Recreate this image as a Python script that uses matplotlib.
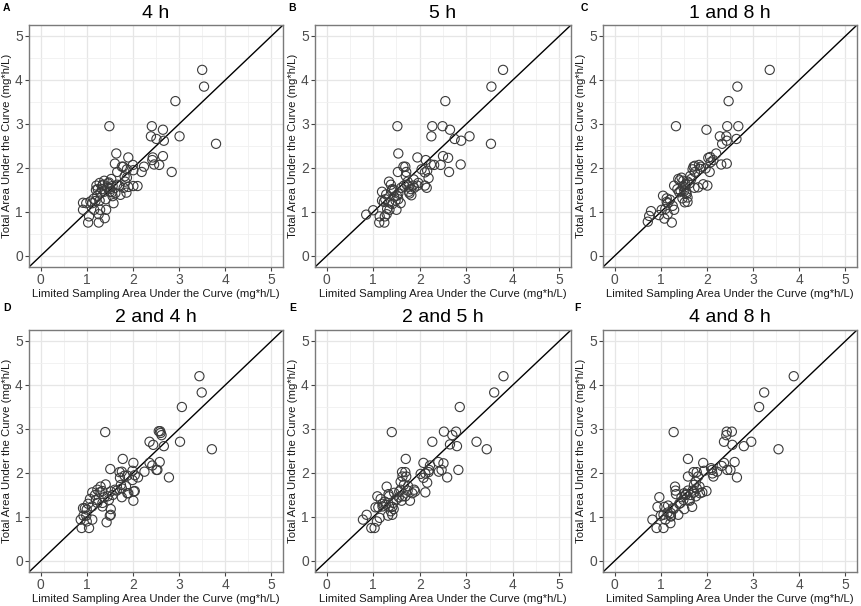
import matplotlib
matplotlib.use("Agg")
import matplotlib.pyplot as plt

# figure size in pixels
W, H = 861, 606

titles = ['4 h', '5 h', '1 and 8 h', '2 and 4 h', '2 and 5 h', '4 and 8 h']
letters = ['A', 'B', 'C', 'D', 'E', 'F']

# Panel A: 4 h
x_4h = [3.50, 3.54, 2.92, 1.49, 2.41, 2.65, 2.39, 3.01, 2.51, 2.67, 3.80, 1.64, 1.90, 2.43,
        2.65, 2.42, 2.46, 2.57, 1.61, 1.76, 1.79, 2.00, 2.24, 2.19, 2.84, 1.66, 1.87, 2.01,
        1.73, 1.90, 2.01, 2.10, 1.86, 1.83, 1.87, 1.66, 1.56, 1.51, 1.53, 1.46, 1.38, 1.28,
        1.21, 1.24, 1.30, 1.38, 1.50, 1.56, 1.58, 1.41, 1.28, 1.19, 1.08, 0.99, 0.92, 0.92,
        1.05, 1.03, 1.26, 1.39, 1.42, 1.29, 1.16, 1.26, 1.12, 1.23, 1.33, 1.45, 1.35, 1.15,
        1.70, 1.80, 1.55, 1.82, 1.48, 1.20, 1.62, 1.34]
y_4h = [4.23, 3.85, 3.52, 2.95, 2.95, 2.87, 2.72, 2.72, 2.66, 2.62, 2.55, 2.33, 2.24, 2.24,
        2.27, 2.18, 2.08, 2.07, 2.10, 2.03, 2.03, 2.07, 2.03, 1.91, 1.91, 1.91, 1.97, 1.95,
        1.39, 1.57, 1.59, 1.59, 1.44, 1.69, 1.78, 1.62, 1.59, 1.52, 1.75, 1.65, 1.71, 1.66,
        1.60, 1.52, 1.44, 1.46, 1.46, 1.36, 1.20, 1.29, 1.26, 1.25, 1.24, 1.20, 1.21, 1.05,
        0.90, 0.76, 0.76, 0.86, 1.05, 1.05, 1.05, 0.95, 1.20, 1.37, 1.52, 1.55, 1.62, 1.30,
        1.60, 1.55, 1.45, 1.81, 1.67, 1.50, 1.43, 1.60]

# Panel B: 5 h
x_5h = [3.79, 3.54, 2.55, 1.52, 2.27, 2.49, 2.65, 2.25, 3.07, 2.75, 2.89, 3.53, 1.54, 1.95,
        2.50, 2.61, 2.13, 2.24, 2.31, 2.45, 2.88, 2.63, 1.53, 1.65, 1.69, 2.04, 2.16, 2.11,
        2.19, 1.71, 1.70, 1.87, 1.97, 1.95, 2.11, 2.15, 1.76, 1.81, 1.85, 1.77, 1.82, 1.78,
        1.74, 1.66, 1.34, 1.38, 1.41, 1.40, 1.54, 1.54, 1.59, 1.48, 1.51, 1.19, 1.19, 1.23,
        1.26, 1.34, 1.41, 1.00, 0.85, 1.14, 1.25, 1.29, 1.13, 1.24, 1.35, 1.50, 1.30, 1.45,
        1.60, 1.72, 1.88, 1.45, 1.28]
y_5h = [4.23, 3.85, 3.52, 2.95, 2.95, 2.95, 2.87, 2.72, 2.72, 2.66, 2.62, 2.55, 2.33, 2.24,
        2.27, 2.23, 2.18, 2.08, 2.07, 2.07, 2.08, 1.91, 1.91, 2.03, 2.03, 1.97, 1.94, 1.90,
        1.77, 1.91, 1.82, 1.74, 1.66, 1.60, 1.60, 1.55, 1.58, 1.52, 1.60, 1.46, 1.38, 1.42,
        1.69, 1.60, 1.69, 1.62, 1.52, 1.48, 1.42, 1.29, 1.20, 1.26, 1.37, 1.46, 1.26, 1.23,
        1.29, 1.22, 1.18, 1.04, 0.94, 0.90, 0.90, 0.95, 0.76, 0.76, 1.05, 1.05, 1.07, 1.50,
        1.55, 1.62, 1.55, 1.35, 1.40]

# Panel C: 1 and 8 h
x_1_8h = [3.36, 2.66, 2.47, 1.33, 1.99, 2.44, 2.68, 2.28, 2.42, 2.43, 2.33, 2.64, 2.20, 2.07,
          2.03, 2.14, 2.08, 2.31, 2.43, 2.06, 1.97, 1.83, 1.87, 1.71, 1.74, 1.74, 1.69, 1.64,
          1.45, 1.58, 1.54, 1.49, 1.92, 2.01, 1.73, 1.81, 1.38, 1.41, 1.52, 1.51, 1.56, 1.58,
          1.52, 1.58, 1.47, 1.36, 1.43, 1.29, 1.05, 1.13, 1.15, 1.13, 1.02, 1.10, 1.29, 0.79,
          0.75, 0.72, 0.96, 1.08, 1.15, 1.24, 1.26, 1.62, 1.48, 1.55, 1.40, 1.20, 1.85, 1.66]
y_1_8h = [4.23, 3.85, 3.52, 2.95, 2.87, 2.95, 2.95, 2.72, 2.72, 2.62, 2.55, 2.66, 2.33, 2.25,
          2.23, 2.18, 2.13, 2.08, 2.10, 1.91, 1.99, 2.07, 2.03, 2.03, 2.05, 1.91, 1.97, 1.82,
          1.78, 1.69, 1.63, 1.71, 1.63, 1.60, 1.55, 1.56, 1.75, 1.72, 1.56, 1.48, 1.41, 1.33,
          1.22, 1.23, 1.31, 1.52, 1.48, 1.60, 1.37, 1.31, 1.20, 1.23, 1.05, 1.07, 1.05, 1.02,
          0.91, 0.78, 0.93, 0.85, 0.95, 0.76, 1.14, 1.65, 1.58, 1.45, 1.45, 1.28, 1.98, 1.75]

# Panel D: 2 and 4 h
x_2_4h = [3.44, 3.49, 3.06, 1.40, 2.56, 2.59, 2.60, 2.62, 2.36, 3.02, 2.44, 2.67, 3.71, 1.78,
          2.01, 2.36, 2.58, 2.42, 2.51, 2.53, 1.51, 1.71, 1.76, 1.99, 2.25, 2.11, 2.78, 2.04,
          1.99, 1.82, 1.88, 1.72, 1.74, 1.88, 1.90, 2.02, 2.04, 1.76, 1.85, 1.76, 2.01, 1.61,
          1.56, 1.52, 1.45, 1.48, 1.41, 1.30, 1.34, 1.28, 1.12, 1.23, 1.20, 1.07, 1.23, 1.34,
          1.34, 1.52, 1.52, 1.50, 1.03, 0.96, 1.00, 0.92, 1.12, 0.87, 0.93, 0.99, 0.89, 1.05,
          1.12, 1.43, 1.00, 1.65, 1.38, 1.18]
y_2_4h = [4.20, 3.83, 3.50, 2.93, 2.95, 2.95, 2.91, 2.86, 2.71, 2.71, 2.64, 2.61, 2.54, 2.32,
          2.23, 2.23, 2.25, 2.17, 2.07, 2.07, 2.09, 2.02, 2.03, 2.05, 2.03, 1.90, 1.90, 1.95,
          1.84, 1.94, 1.94, 1.89, 1.73, 1.54, 1.54, 1.58, 1.59, 1.65, 1.70, 1.45, 1.37, 1.62,
          1.50, 1.58, 1.47, 1.39, 1.74, 1.69, 1.59, 1.56, 1.56, 1.62, 1.39, 1.41, 1.32, 1.32,
          1.24, 1.18, 1.05, 1.03, 1.30, 1.20, 1.17, 1.20, 1.24, 0.94, 1.03, 1.03, 0.75, 0.75,
          0.94, 0.88, 0.90, 1.60, 1.45, 1.50]

# Panel E: 2 and 5 h
x_2_5h = [3.80, 3.60, 2.86, 1.40, 2.52, 2.78, 2.70, 2.27, 3.22, 2.65, 2.80, 3.44, 1.70, 2.08,
          2.40, 2.51, 2.22, 2.41, 2.47, 2.83, 2.59, 1.62, 1.69, 2.02, 2.08, 2.12, 2.19, 2.20,
          2.16, 1.63, 1.71, 1.59, 1.66, 2.12, 1.88, 1.90, 1.84, 1.79, 1.59, 1.56, 1.63, 1.69,
          1.74, 1.61, 1.29, 1.33, 1.34, 1.09, 1.16, 1.20, 1.27, 1.34, 1.43, 1.44, 1.38, 1.05,
          1.11, 1.41, 1.32, 1.14, 0.78, 0.86, 0.96, 1.03, 1.08, 1.41, 1.50, 1.25, 1.45, 1.55,
          1.20, 1.75]
y_2_5h = [4.20, 3.83, 3.50, 2.93, 2.94, 2.94, 2.86, 2.71, 2.71, 2.65, 2.61, 2.54, 2.32, 2.23,
          2.25, 2.22, 2.17, 2.03, 2.07, 2.07, 1.90, 2.02, 2.02, 1.98, 1.89, 1.99, 2.02, 2.07,
          1.78, 1.92, 1.92, 1.80, 1.73, 1.56, 1.62, 1.58, 1.54, 1.37, 1.62, 1.58, 1.47, 1.47,
          1.60, 1.37, 1.69, 1.52, 1.47, 1.47, 1.41, 1.24, 1.28, 1.24, 1.32, 1.18, 1.13, 1.22,
          1.22, 1.05, 1.03, 0.98, 0.94, 1.05, 0.75, 0.75, 0.90, 1.23, 1.40, 1.35, 1.55, 1.45,
          1.30, 1.70]

# Panel F: 4 and 8 h
x_4_8h = [3.88, 3.24, 3.13, 1.28, 2.43, 2.42, 2.54, 2.55, 2.37, 2.96, 2.80, 3.55, 1.59, 1.92,
          2.37, 2.60, 2.32, 2.44, 2.51, 2.65, 2.09, 2.11, 2.22, 2.14, 2.12, 1.71, 1.78, 1.94,
          1.59, 1.81, 1.76, 1.72, 1.78, 1.84, 1.99, 1.85, 1.90, 1.69, 1.72, 1.76, 1.51, 1.54,
          1.59, 1.65, 1.61, 1.63, 1.49, 1.51, 1.43, 1.68, 1.31, 1.32, 1.33, 0.97, 0.93, 1.08,
          1.16, 1.26, 1.28, 1.22, 1.06, 1.00, 1.22, 1.38, 1.10, 0.82, 0.91, 1.06, 1.21, 1.22,
          1.45, 1.55, 1.40, 1.15]
y_4_8h = [4.20, 3.83, 3.50, 2.93, 2.94, 2.86, 2.94, 2.64, 2.71, 2.71, 2.61, 2.54, 2.32, 2.23,
          2.23, 2.25, 2.16, 2.07, 2.07, 1.90, 2.11, 2.07, 2.03, 1.92, 1.99, 2.02, 2.02, 2.05,
          1.92, 1.92, 1.80, 1.73, 1.65, 1.69, 1.59, 1.54, 1.56, 1.60, 1.56, 1.47, 1.54, 1.50,
          1.60, 1.50, 1.39, 1.37, 1.39, 1.18, 1.32, 1.23, 1.69, 1.60, 1.52, 1.45, 1.23, 1.23,
          1.26, 1.20, 1.18, 1.09, 1.05, 1.03, 1.03, 1.05, 0.94, 0.94, 0.75, 0.75, 0.86, 1.01,
          1.45, 1.52, 1.30, 1.10]

xs = [x_4h, x_5h, x_1_8h, x_2_4h, x_2_5h, x_4_8h]
ys = [y_4h, y_5h, y_1_8h, y_2_4h, y_2_5h, y_4_8h]

plt.rcParams['font.family'] = ['Liberation Sans', 'DejaVu Sans']

# axes boxes in pixels: left, top, right, bottom
boxes = [(29, 25, 283, 267), (315, 25, 571, 267), (603, 25, 857, 267),
         (29, 330, 283, 572), (315, 330, 571, 572), (603, 330, 857, 572)]
letter_pos = [(3, 8), (288, 8), (581, 8), (3, 308), (289, 308), (574, 308)]


def draw_panel(fig, box, x, y, title, letter, lpos):
    left, top, right, bottom = box
    ax = fig.add_axes([left / W, 1 - bottom / H, (right - left) / W, (bottom - top) / H])
    ax.set_xlim(-0.25, 5.25)
    ax.set_ylim(-0.25, 5.25)
    ax.set_xticks(range(6))
    ax.set_yticks(range(6))
    ax.set_xticks([0.5, 1.5, 2.5, 3.5, 4.5], minor=True)
    ax.set_yticks([0.5, 1.5, 2.5, 3.5, 4.5], minor=True)
    ax.grid(which='major', color='#e6e6e6', lw=0.9)
    ax.grid(which='minor', color='#f0f0f0', lw=0.6)
    ax.set_axisbelow(True)
    for s in ax.spines.values():
        s.set_color('#7a7a7a')
        s.set_linewidth(1.0)
    ax.tick_params(which='major', length=3, width=0.8, color='#444444',
                   labelsize=10, labelcolor='#4d4d4d', pad=1.5)
    ax.tick_params(which='minor', length=0)

    ax.axline((0, 0), (1, 1), color='black', lw=1.0, zorder=2)
    ax.scatter(x, y, s=44, facecolors='none', edgecolors='#3a3a3a', linewidths=0.8, zorder=3)

    ax.set_xlabel('Limited Sampling Area Under the Curve (mg*h/L)', fontsize=8.2,
                  color='#1a1a1a', labelpad=1)
    ax.set_ylabel('Total Area Under the Curve (mg*h/L)', fontsize=8.2,
                  color='#1a1a1a', labelpad=2)

    fig.text((left + right) / 2 / W, 1 - (top - 12) / H, title, fontsize=14,
             ha='center', va='center', color='black')
    fig.text(lpos[0] / W, 1 - lpos[1] / H, letter, fontsize=7.5, fontweight='bold',
             ha='left', va='center', color='black')
    return ax


fig = plt.figure(figsize=(W / 100, H / 100), dpi=100)
for i in range(6):
    draw_panel(fig, boxes[i], xs[i], ys[i], titles[i], letters[i], letter_pos[i])

fig.savefig('out.png', dpi=100, facecolor='white')
